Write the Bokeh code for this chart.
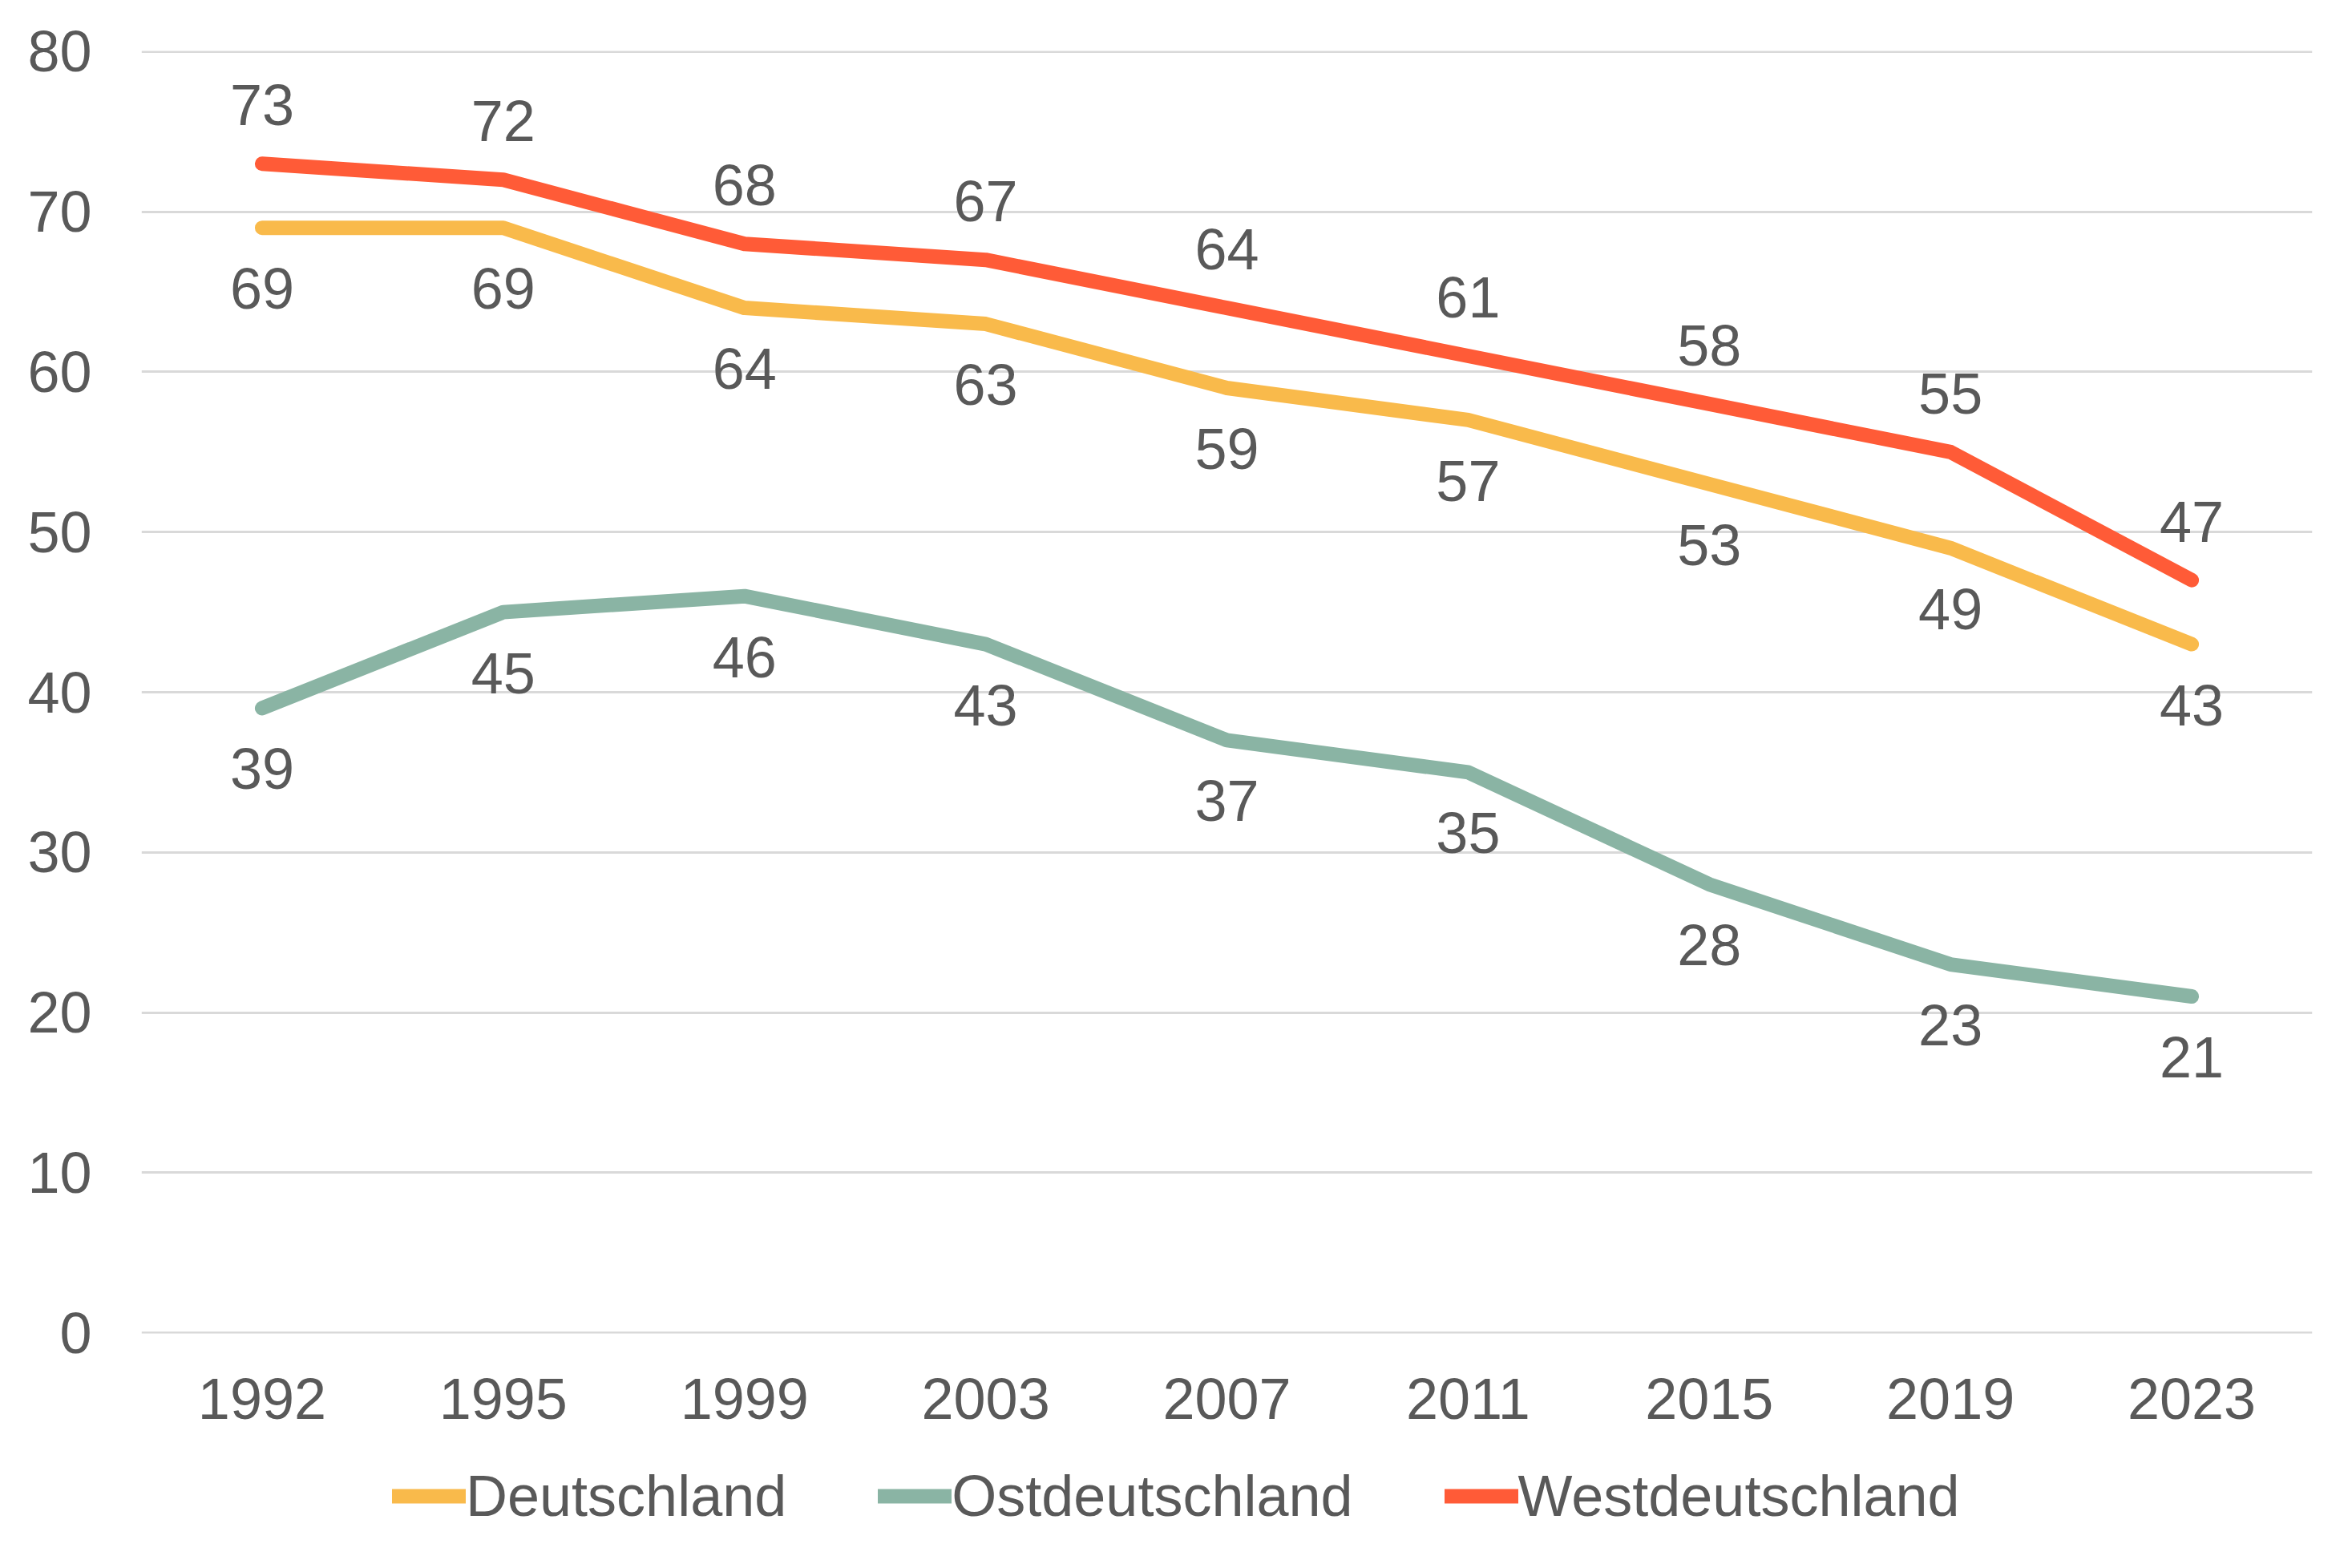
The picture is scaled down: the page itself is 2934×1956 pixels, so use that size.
from bokeh.plotting import figure
from bokeh.layouts import column
from bokeh.models import ColumnDataSource, Legend, LegendItem, FixedTicker, Range1d
from bokeh.core.properties import value
from bokeh.embed import file_html
from bokeh.resources import INLINE

years = ["1992", "1995", "1999", "2003", "2007", "2011", "2015", "2019", "2023"]
deutschland = [69, 69, 64, 63, 59, 57, 53, 49, 43]
ostdeutschland = [39, 45, 46, 43, 37, 35, 28, 23, 21]
westdeutschland = [73, 72, 68, 67, 64, 61, 58, 55, 47]
y_ticks = [0, 10, 20, 30, 40, 50, 60, 70, 80]
series_names = ["Deutschland", "Ostdeutschland", "Westdeutschland"]

FONT = "Liberation Sans"
TXT = "#595959"
C_DE = "#F9BA4B"
C_OST = "#8AB4A4"
C_WEST = "#FF5B37"
LW = 18

W = 2918
H_MAIN = 1813
H_LEG = 127

p = figure(
    width=W, height=H_MAIN,
    x_range=years, y_range=Range1d(-0.05, 80.05),
    output_backend="svg", toolbar_location=None,
    min_border_left=176, min_border_right=34,
    min_border_top=63, min_border_bottom=150,
)
p.outline_line_color = None
p.background_fill_color = "white"
p.border_fill_color = "white"

p.xgrid.grid_line_color = None
p.ygrid.grid_line_color = "#D9D9D9"
p.ygrid.grid_line_width = 3
p.yaxis.ticker = FixedTicker(ticks=y_ticks)

for ax in (p.xaxis[0], p.yaxis[0]):
    ax.axis_line_color = None
    ax.major_tick_line_color = None
    ax.minor_tick_line_color = None
    ax.major_tick_out = 0
    ax.major_tick_in = 0
    ax.minor_tick_out = 0
    ax.major_label_text_font = FONT
    ax.major_label_text_font_size = "72px"
    ax.major_label_text_color = TXT
p.yaxis.major_label_standoff = 62
p.xaxis.major_label_standoff = 56

src = ColumnDataSource(dict(
    x=years, de=deutschland, ost=ostdeutschland, west=westdeutschland,
    de_t=[str(v) for v in deutschland],
    ost_t=[str(v) for v in ostdeutschland],
    west_t=[str(v) for v in westdeutschland],
))

line_style = dict(line_width=LW, line_cap="round", line_join="round")
p.line("x", "de", source=src, line_color=C_DE, **line_style)
p.line("x", "ost", source=src, line_color=C_OST, **line_style)
p.line("x", "west", source=src, line_color=C_WEST, **line_style)

common = dict(source=src, text_font=value(FONT), text_font_size="72px",
              text_color=TXT, text_align="center", text_baseline="middle")
p.text("x", "de", text="de_t", y_offset=76, **common)
p.text("x", "ost", text="ost_t", y_offset=76, **common)
p.text("x", "west", text="west_t", y_offset=-73, **common)

# Legend strip below the chart (own small figure so it is not clipped)
pl = figure(
    width=W, height=H_LEG,
    x_range=Range1d(0, 1), y_range=Range1d(0, 1),
    x_axis_type=None, y_axis_type=None,
    output_backend="svg", toolbar_location=None,
    min_border=0, min_border_left=0, min_border_right=0,
    min_border_top=0, min_border_bottom=0,
)
pl.outline_line_color = None
pl.background_fill_color = "white"
pl.border_fill_color = "white"
pl.grid.visible = False

nan = float("nan")
lr_de = pl.line(x=[nan], y=[nan], line_color=C_DE, **line_style)
lr_ost = pl.line(x=[nan], y=[nan], line_color=C_OST, **line_style)
lr_west = pl.line(x=[nan], y=[nan], line_color=C_WEST, **line_style)

legend = Legend(
    items=[LegendItem(label=series_names[0], renderers=[lr_de]),
           LegendItem(label=series_names[1], renderers=[lr_ost]),
           LegendItem(label=series_names[2], renderers=[lr_west])],
    location=(313, 33), orientation="horizontal",
    label_text_font=FONT, label_text_font_size="72px", label_text_color=TXT,
    glyph_width=92, glyph_height=40, label_standoff=0, spacing=114,
    padding=0, margin=0, border_line_color=None, background_fill_alpha=0,
)
pl.add_layout(legend, "center")

layout = column(p, pl, spacing=0)
open("out.html", "w").write(file_html(layout, INLINE))
